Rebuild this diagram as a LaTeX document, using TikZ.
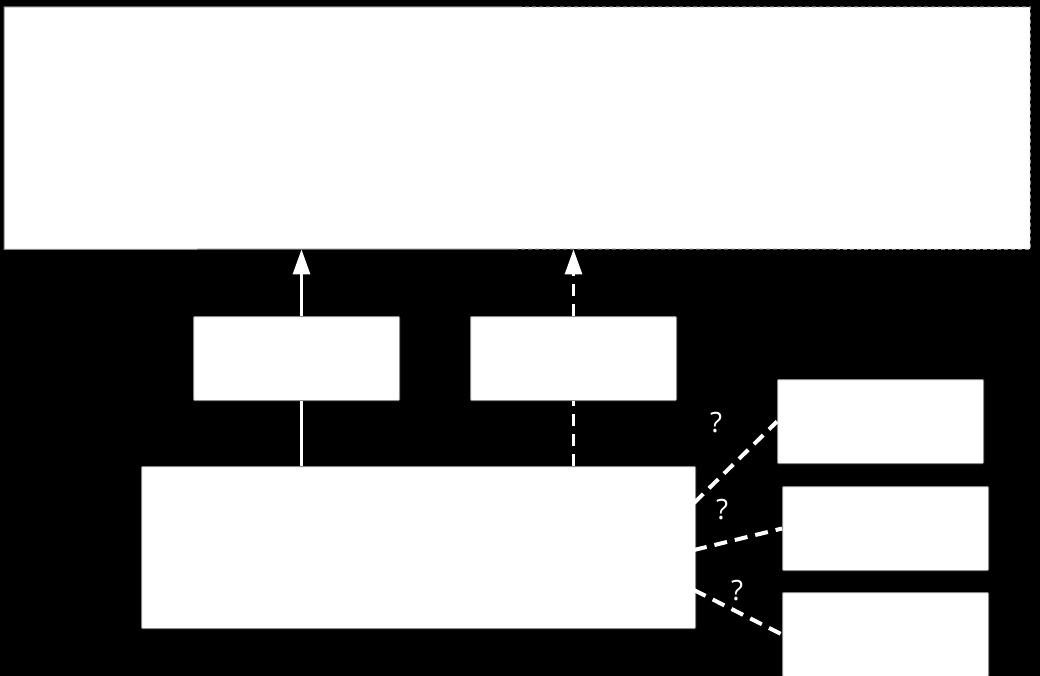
\documentclass[tikz,border=0pt]{standalone}
\usepackage{fontspec}
\setmainfont{Open Sans}
\usetikzlibrary{arrows.meta}
\definecolor{edgegray}{HTML}{8A8A8A}
\tikzset{
  box/.style={rectangle, fill=white, draw=edgegray, line width=1pt, rounded corners=1pt, anchor=north west, inner sep=0pt, minimum width=206pt, minimum height=84pt},
  flow/.style={draw=white, line width=3pt, -{Triangle[width=17pt,length=25pt]}},
  flowplain/.style={draw=white, line width=3pt},
  dashflow/.style={draw=white, line width=3pt, dash pattern=on 12pt off 8pt},
  link/.style={draw=white, line width=4pt, dash pattern=on 13pt off 8pt},
  qmark/.style={text=white, font=\fontsize{28}{30}\selectfont, inner sep=0pt},
}
\begin{document}
\begin{tikzpicture}[x=1pt, y=-1pt]
\fill[black] (0,0) rectangle (1040,676);
\useasboundingbox (0,0) rectangle (1040,676);
% top box
\node[rectangle, fill=white, anchor=north west, inner sep=0pt, minimum width=1026pt, minimum height=242pt] (top) at (4,7) {};
\draw[edgegray, line width=1pt] (518,7) -- (top.north west) -- (top.south west) -- (518,249);
\draw[edgegray, line width=1pt, dash pattern=on 4pt off 3pt] (518,7) -- (top.north east) -- (top.south east) -- (518,249);
% middle boxes
\node[box] (s1) at (193,316) {};
\node[box] (s2) at (470,316) {};
% main box
\node[box, minimum width=554pt, minimum height=162pt] (main) at (141,466) {};
% right boxes
\node[box] (bA) at (777,379) {};
\node[box] (bB) at (782,486) {};
\node[box] (bC) at (782,592) {};
% arrows
\coordinate (s1b) at ([xshift=5pt]s1.south);
\coordinate (s1t) at ([xshift=5pt]s1.north);
\draw[flowplain] (main.north -| s1b) -- (s1b);
\draw[flow] (s1t) -- (top.south -| s1t);
\draw[dashflow] (main.north -| s2.south) -- (s2.south);
\draw[dashflow, -{Triangle[width=17pt,length=25pt]}] (s2.north) -- (top.south -| s2.north);
% links
\coordinate (cA) at (694,503);
\coordinate (cB) at (694,550);
\coordinate (cC) at (694,590);
\draw[link] (cA) -- (bA.west);
\draw[link] (cB) -- (bB.west);
\draw[link] (cC) -- (bC.west);
\node[qmark] (qA) at (716,423) {?};
\node[qmark] (qB) at (722,510) {?};
\node[qmark] (qC) at (737,591) {?};
\end{tikzpicture}
\end{document}
